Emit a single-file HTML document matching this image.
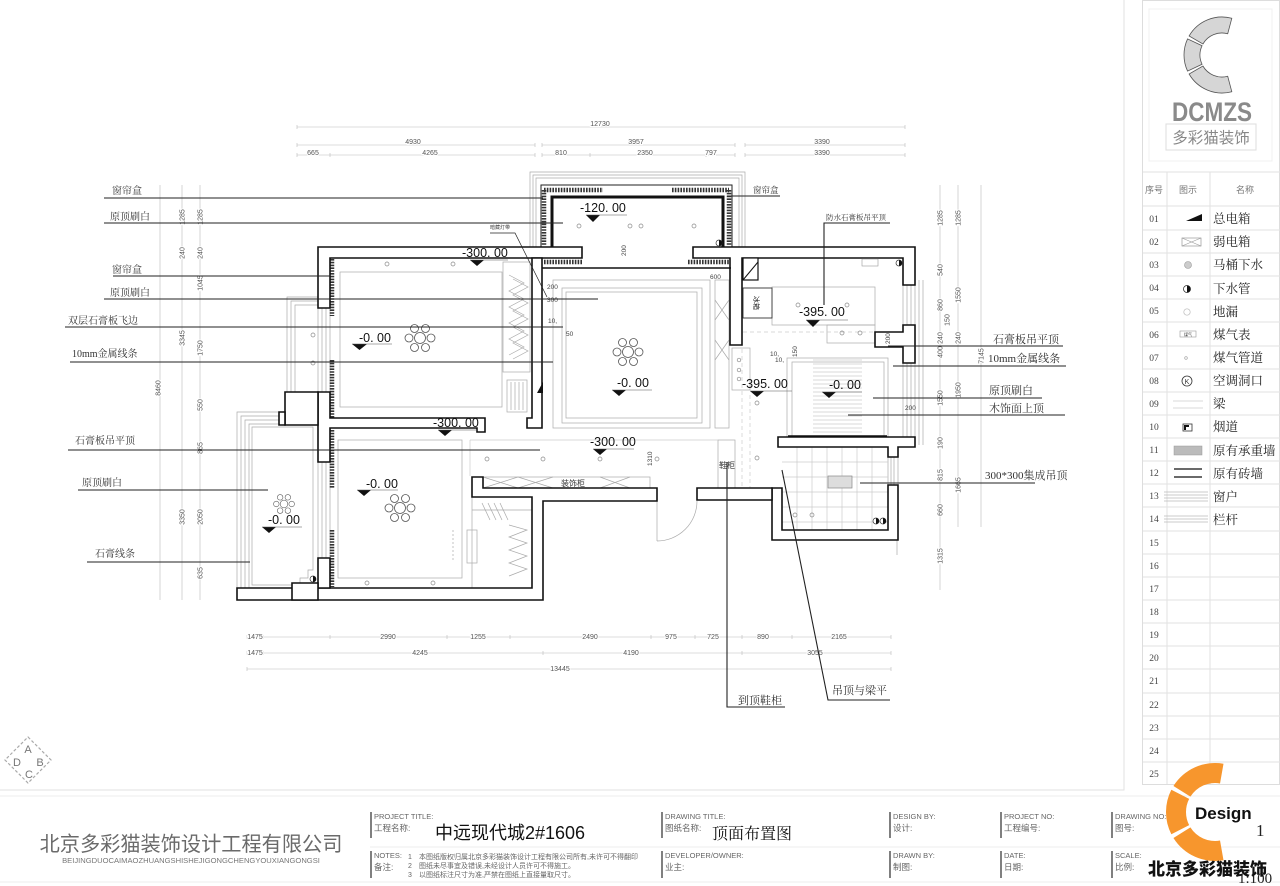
<!DOCTYPE html>
<html><head><meta charset="utf-8">
<style>
html,body{margin:0;padding:0;background:#fff;}
svg{display:block;}
.d{font-family:"Liberation Sans",sans-serif;font-size:7px;fill:#555;text-anchor:middle;paint-order:stroke;stroke:#fff;stroke-width:2px;}
.l{font-family:"Liberation Serif","Noto Serif CJK SC",serif;font-size:10px;fill:#333;}
.r{font-family:"Liberation Serif","Noto Serif CJK SC",serif;font-size:11px;fill:#333;}
.e{font-family:"Liberation Sans",sans-serif;font-size:12.5px;fill:#111;}
.s{font-family:"Liberation Sans","Noto Sans CJK SC",sans-serif;font-size:6.5px;fill:#444;}
.ln{font-family:"Liberation Serif",serif;font-size:9.5px;fill:#444;text-anchor:middle;}
.lt{font-family:"Liberation Serif","Noto Serif CJK SC",serif;font-size:12.5px;fill:#222;}
.tb{font-family:"Liberation Sans",sans-serif;font-size:7.5px;fill:#666;}
.tc{font-family:"Liberation Sans","Noto Sans CJK SC",sans-serif;font-size:8.5px;fill:#666;}
.nt{font-family:"Liberation Sans","Noto Sans CJK SC",sans-serif;font-size:7px;fill:#666;}
.w{fill:#fff;stroke:#111;stroke-width:1.6;}
.g{fill:none;stroke:#aaa;stroke-width:0.7;}
.g2{fill:none;stroke:#ccc;stroke-width:0.7;}
.lead{fill:none;stroke:#222;stroke-width:1.1;}
.sq{fill:none;stroke:#333;stroke-width:4.5;stroke-dasharray:1.6 1.2;}
</style></head><body>
<svg width="1280" height="886" viewBox="0 0 1280 886" xmlns="http://www.w3.org/2000/svg">
<defs>
<g id="ch" fill="none" stroke="#555" stroke-width="0.8">
<circle r="5.5"/><circle cx="11" cy="0" r="4"/><circle cx="-11" cy="0" r="4"/>
<circle cx="5.5" cy="9.5" r="4"/><circle cx="-5.5" cy="9.5" r="4"/>
<circle cx="5.5" cy="-9.5" r="4"/><circle cx="-5.5" cy="-9.5" r="4"/>
</g>
</defs>
<rect width="1280" height="886" fill="#fff"/>

<!-- frame -->
<path d="M1124,0 V790 H0" stroke="#e2e2e2" fill="none"/>
<line x1="0" y1="796" x2="1280" y2="796" stroke="#ececec"/>
<line x1="370" y1="847" x2="1280" y2="847" stroke="#ececec"/>
<line x1="0" y1="882" x2="1280" y2="882" stroke="#ececec"/>

<!-- ========== LEGEND PANEL ========== -->
<rect x="1142.5" y="0.5" width="137" height="784" fill="none" stroke="#ddd"/>
<rect x="1149" y="9" width="123" height="152" fill="none" stroke="#f0f0f0"/>
<g fill="#d6d6d6" stroke="#555" stroke-width="0.8">
<path d="M1231.8,18.3 A38,38 0 0 0 1189.1,36 L1202.9,44 A22,22 0 0 1 1227.7,33.75 Z"/>
<path d="M1187.56,38.94 A38,38 0 0 0 1187.56,71.06 L1202.06,64.3 A22,22 0 0 1 1202.06,45.7 Z"/>
<path d="M1189.1,74 A38,38 0 0 0 1231.8,91.7 L1227.7,76.25 A22,22 0 0 1 1202.9,66 Z"/>
</g>
<text x="1172" y="121" font-family="Liberation Sans, sans-serif" font-size="27" font-weight="bold" fill="#8a8a8a" textLength="80" lengthAdjust="spacingAndGlyphs">DCMZS</text>
<rect x="1166" y="124" width="90" height="26" fill="none" stroke="#ddd"/>
<text x="1211" y="143" font-family="Liberation Sans, Noto Sans CJK SC, sans-serif" font-size="15.5" fill="#888" text-anchor="middle">多彩猫装饰</text>

<g stroke="#e2e2e2" stroke-width="1">
<line x1="1143" y1="172" x2="1280" y2="172"/>
<line x1="1143" y1="206" x2="1280" y2="206"/>
<line x1="1167" y1="172" x2="1167" y2="784"/>
<line x1="1210" y1="172" x2="1210" y2="784"/>
<line x1="1143" y1="230" x2="1280" y2="230"/><line x1="1143" y1="253" x2="1280" y2="253"/>
<line x1="1143" y1="276" x2="1280" y2="276"/><line x1="1143" y1="299" x2="1280" y2="299"/>
<line x1="1143" y1="322" x2="1280" y2="322"/><line x1="1143" y1="346" x2="1280" y2="346"/>
<line x1="1143" y1="369" x2="1280" y2="369"/><line x1="1143" y1="392" x2="1280" y2="392"/>
<line x1="1143" y1="415" x2="1280" y2="415"/><line x1="1143" y1="438" x2="1280" y2="438"/>
<line x1="1143" y1="461" x2="1280" y2="461"/><line x1="1143" y1="484" x2="1280" y2="484"/>
<line x1="1143" y1="507" x2="1280" y2="507"/><line x1="1143" y1="531" x2="1280" y2="531"/>
<line x1="1143" y1="554" x2="1280" y2="554"/><line x1="1143" y1="577" x2="1280" y2="577"/>
<line x1="1143" y1="600" x2="1280" y2="600"/><line x1="1143" y1="623" x2="1280" y2="623"/>
<line x1="1143" y1="646" x2="1280" y2="646"/><line x1="1143" y1="669" x2="1280" y2="669"/>
<line x1="1143" y1="693" x2="1280" y2="693"/><line x1="1143" y1="716" x2="1280" y2="716"/>
<line x1="1143" y1="739" x2="1280" y2="739"/><line x1="1143" y1="762" x2="1280" y2="762"/>
</g>
<g font-family="Liberation Sans, Noto Sans CJK SC, sans-serif" font-size="9" fill="#777" text-anchor="middle">
<text x="1154" y="193">序号</text><text x="1188" y="193">图示</text><text x="1245" y="193">名称</text>
</g>
<g class="ln">
<text x="1154" y="222">01</text><text x="1154" y="245">02</text><text x="1154" y="268">03</text>
<text x="1154" y="291">04</text><text x="1154" y="314">05</text><text x="1154" y="338">06</text>
<text x="1154" y="361">07</text><text x="1154" y="384">08</text><text x="1154" y="407">09</text>
<text x="1154" y="430">10</text><text x="1154" y="453">11</text><text x="1154" y="476">12</text>
<text x="1154" y="499">13</text><text x="1154" y="522">14</text><text x="1154" y="546">15</text>
<text x="1154" y="569">16</text><text x="1154" y="592">17</text><text x="1154" y="615">18</text>
<text x="1154" y="638">19</text><text x="1154" y="661">20</text><text x="1154" y="684">21</text>
<text x="1154" y="708">22</text><text x="1154" y="731">23</text><text x="1154" y="754">24</text>
<text x="1154" y="777">25</text>
</g>
<g class="lt">
<text x="1213" y="223">总电箱</text><text x="1213" y="246">弱电箱</text><text x="1213" y="269">马桶下水</text>
<text x="1213" y="293">下水管</text><text x="1213" y="316">地漏</text><text x="1213" y="339">煤气表</text>
<text x="1213" y="362">煤气管道</text><text x="1213" y="385">空调洞口</text><text x="1213" y="408">梁</text>
<text x="1213" y="431">烟道</text><text x="1213" y="455">原有承重墙</text><text x="1213" y="478">原有砖墙</text>
<text x="1213" y="501">窗户</text><text x="1213" y="524">栏杆</text>
</g>
<!-- legend icons -->
<polygon points="1186,221 1202,221 1202,214" fill="#111"/>
<rect x="1182" y="238" width="19" height="8" fill="none" stroke="#999" stroke-width="0.7"/>
<path d="M1182,238 L1201,246 M1201,238 L1182,246" stroke="#999" stroke-width="0.6"/>
<circle cx="1188" cy="265" r="3.5" fill="#ccc" stroke="#999" stroke-width="0.6"/>
<circle cx="1187" cy="289" r="3.5" fill="#fff" stroke="#333" stroke-width="0.8"/>
<path d="M1187,285.5 A3.5,3.5 0 0 1 1187,292.5 Z" fill="#111"/>
<circle cx="1187" cy="312" r="3.2" fill="none" stroke="#bbb" stroke-width="0.7"/>
<rect x="1180" y="331" width="16" height="6" fill="none" stroke="#999" stroke-width="0.6"/>
<text x="1188" y="336" font-size="4" text-anchor="middle" fill="#333" font-family="Noto Sans CJK SC, sans-serif">煤气</text>
<circle cx="1186" cy="358" r="1.3" fill="none" stroke="#999" stroke-width="0.6"/>
<circle cx="1187" cy="381" r="5" fill="none" stroke="#333" stroke-width="0.8"/>
<text x="1187" y="384" font-size="7" text-anchor="middle" fill="#333" font-family="Liberation Sans, sans-serif">K</text>
<path d="M1173,401 H1203 M1173,408 H1203" stroke="#ccc" stroke-width="0.7"/>
<rect x="1183" y="424" width="9" height="7" fill="#fff" stroke="#333" stroke-width="0.8"/>
<path d="M1184,425 H1189 V427 H1186 V430 H1184 Z" fill="#111"/>
<rect x="1174" y="446" width="28" height="9" fill="#bbb" stroke="#999" stroke-width="0.5"/>
<path d="M1174,469 H1202 M1174,477 H1202" stroke="#111" stroke-width="1.2"/>
<path d="M1164,492 H1208 M1164,495 H1208 M1164,498 H1208 M1164,501 H1208" stroke="#bbb" stroke-width="0.7"/>
<path d="M1164,516 H1208 M1164,519 H1208 M1164,522 H1208" stroke="#bbb" stroke-width="0.7"/>

<!-- ========== TITLE BLOCK ========== -->
<text x="191" y="851" font-family="Liberation Sans, Noto Sans CJK SC, sans-serif" font-size="20.2" fill="#6a6a6a" text-anchor="middle">北京多彩猫装饰设计工程有限公司</text>
<text x="191" y="863" font-family="Liberation Sans, sans-serif" font-size="7.6" fill="#777" text-anchor="middle">BEIJINGDUOCAIMAOZHUANGSHISHEJIGONGCHENGYOUXIANGONGSI</text>
<g stroke="#555" stroke-width="1.5">
<line x1="371" y1="812" x2="371" y2="838"/><line x1="371" y1="851" x2="371" y2="878"/>
<line x1="662" y1="812" x2="662" y2="838"/><line x1="662" y1="851" x2="662" y2="878"/>
<line x1="890" y1="812" x2="890" y2="838"/><line x1="890" y1="851" x2="890" y2="878"/>
<line x1="1001" y1="812" x2="1001" y2="838"/><line x1="1001" y1="851" x2="1001" y2="878"/>
<line x1="1112" y1="812" x2="1112" y2="838"/><line x1="1112" y1="851" x2="1112" y2="878"/>
</g>
<text class="tb" x="374" y="819">PROJECT TITLE:</text>
<text class="tc" x="374" y="831">工程名称:</text>
<text x="435" y="839" font-family="Liberation Sans, Noto Sans CJK SC, sans-serif" font-size="18" fill="#111">中远现代城2#1606</text>
<text class="tb" x="374" y="858">NOTES:</text>
<text class="tc" x="374" y="870">备注:</text>
<text class="nt" x="408" y="859">1</text><text class="nt" x="419" y="859" font-size="7.2">本图纸版权归属北京多彩猫装饰设计工程有限公司所有,未许可不得翻印</text>
<text class="nt" x="408" y="868">2</text><text class="nt" x="419" y="868" font-size="7.2">图纸未尽事宜及错误,未经设计人员许可不得施工。</text>
<text class="nt" x="408" y="877">3</text><text class="nt" x="419" y="877" font-size="7.2">以图纸标注尺寸为准,严禁在图纸上直接量取尺寸。</text>
<text class="tb" x="665" y="819">DRAWING TITLE:</text>
<text class="tc" x="665" y="831">图纸名称:</text>
<text x="712" y="839" font-family="Liberation Serif, Noto Serif CJK SC, serif" font-size="16" fill="#111">顶面布置图</text>
<text class="tb" x="665" y="858">DEVELOPER/OWNER:</text>
<text class="tc" x="665" y="870">业主:</text>
<text class="tb" x="893" y="819">DESIGN BY:</text><text class="tc" x="893" y="831">设计:</text>
<text class="tb" x="893" y="858">DRAWN BY:</text><text class="tc" x="893" y="870">制图:</text>
<text class="tb" x="1004" y="819">PROJECT NO:</text><text class="tc" x="1004" y="831">工程编号:</text>
<text class="tb" x="1004" y="858">DATE:</text><text class="tc" x="1004" y="870">日期:</text>
<text class="tb" x="1115" y="819">DRAWING NO:</text><text class="tc" x="1115" y="831">图号:</text>
<text class="tb" x="1115" y="858">SCALE:</text><text class="tc" x="1115" y="870">比例:</text>
<text x="1256" y="836" font-family="Liberation Serif, serif" font-size="17" fill="#222">1</text>
<text x="1238" y="883" font-family="Liberation Serif, serif" font-size="15" fill="#222">1:100</text>
<!-- orange logo -->
<g fill="#F7962D">
<path d="M1223.5,763.7 A49,49 0 0 0 1173.45,786.03 L1190.41,796.63 A29,29 0 0 1 1220.03,783.44 Z"/>
<path d="M1171.34,789.75 A49,49 0 0 0 1171.34,834.25 L1189.16,825.17 A29,29 0 0 1 1189.16,798.83 Z"/>
<path d="M1173.45,837.97 A49,49 0 0 0 1223.5,860.26 L1220.03,840.56 A29,29 0 0 1 1190.41,827.37 Z"/>
</g>
<text x="1195" y="819" font-family="Liberation Sans, sans-serif" font-size="17" font-weight="bold" fill="#111">Design</text>
<text x="1148" y="875" font-family="Noto Sans CJK SC, sans-serif" font-size="17" font-weight="900" fill="#111">北京多彩猫装饰</text>

<!-- ABC logo -->
<polygon points="28,737 51,760 28,783 5,760" fill="none" stroke="#aaa" stroke-width="1.2" stroke-dasharray="3 2"/>
<g font-family="Liberation Sans, sans-serif" font-size="11" fill="#777" text-anchor="middle">
<text x="28" y="753">A</text><text x="17" y="766">D</text><text x="40" y="766">B</text><text x="29" y="778">C</text>
</g>

<!-- ========== DIMENSIONS ========== -->
<g stroke="#bbb" stroke-width="0.6" fill="none">
<path d="M297,127 H905"/>
<path d="M297,145 H535 M542,145 H735 M745,145 H905"/>
<path d="M297,155 H535 M542,155 H735 M745,155 H905"/>
<path d="M297,125 v4 M905,125 v4 M297,143 v4 M535,143 v4 M542,143 v4 M735,143 v4 M745,143 v4 M905,143 v4 M297,153 v4 M330,153 v4 M535,153 v4 M542,153 v4 M590,153 v4 M706,153 v4 M735,153 v4 M745,153 v4 M905,153 v4"/>
<path d="M247,637 H891 M247,653 H891 M247,669 H891"/>
<path d="M247,635 v4 M263,635 v4 M330,635 v4 M447,635 v4 M510,635 v4 M651,635 v4 M695,635 v4 M727,635 v4 M742,635 v4 M792,635 v4 M891,635 v4"/>
<path d="M247,651 v4 M263,651 v4 M543,651 v4 M727,651 v4 M742,651 v4 M891,651 v4 M247,667 v4 M891,667 v4"/>
<path d="M160,185 V600 M182,185 V600 M200,185 V600"/>
<path d="M940,185 V590 M958,185 V527 M981,185 V527"/>
</g>
<g class="d">
<text x="600" y="126">12730</text>
<text x="413" y="144">4930</text><text x="636" y="144">3957</text><text x="822" y="144">3390</text>
<text x="313" y="155">665</text><text x="430" y="155">4265</text><text x="561" y="155">810</text>
<text x="645" y="155">2350</text><text x="711" y="155">797</text><text x="822" y="155">3390</text>
<text x="255" y="639">1475</text><text x="388" y="639">2990</text><text x="478" y="639">1255</text>
<text x="590" y="639">2490</text><text x="671" y="639">975</text><text x="713" y="639">725</text>
<text x="763" y="639">890</text><text x="839" y="639">2165</text>
<text x="255" y="655">1475</text><text x="420" y="655">4245</text><text x="631" y="655">4190</text><text x="815" y="655">3055</text>
<text x="560" y="671">13445</text>
<text transform="translate(184.5,217) rotate(-90)">1285</text>
<text transform="translate(184.5,253) rotate(-90)">240</text>
<text transform="translate(184.5,338) rotate(-90)">3345</text>
<text transform="translate(184.5,517) rotate(-90)">3350</text>
<text transform="translate(202.5,217) rotate(-90)">1285</text>
<text transform="translate(202.5,253) rotate(-90)">240</text>
<text transform="translate(202.5,283) rotate(-90)">1045</text>
<text transform="translate(202.5,348) rotate(-90)">1750</text>
<text transform="translate(202.5,405) rotate(-90)">550</text>
<text transform="translate(202.5,448) rotate(-90)">865</text>
<text transform="translate(202.5,517) rotate(-90)">2050</text>
<text transform="translate(202.5,573) rotate(-90)">635</text>
<text transform="translate(160.5,388) rotate(-90)">8460</text>
<text transform="translate(942.5,218) rotate(-90)">1285</text>
<text transform="translate(942.5,270) rotate(-90)">540</text>
<text transform="translate(942.5,305) rotate(-90)">860</text>
<text transform="translate(942.5,338) rotate(-90)">240</text>
<text transform="translate(942.5,352) rotate(-90)">400</text>
<text transform="translate(942.5,398) rotate(-90)">1550</text>
<text transform="translate(942.5,443) rotate(-90)">190</text>
<text transform="translate(942.5,475) rotate(-90)">815</text>
<text transform="translate(942.5,510) rotate(-90)">660</text>
<text transform="translate(942.5,556) rotate(-90)">1315</text>
<text transform="translate(960.5,218) rotate(-90)">1285</text>
<text transform="translate(960.5,295) rotate(-90)">1550</text>
<text transform="translate(949.5,320) rotate(-90)">150</text>
<text transform="translate(960.5,338) rotate(-90)">240</text>
<text transform="translate(960.5,390) rotate(-90)">1950</text>
<text transform="translate(960.5,485) rotate(-90)">1665</text>
<text transform="translate(983.5,356) rotate(-90)">7145</text>
</g>

<!-- ========== PLAN: gray details ========== -->
<g class="g">
<path d="M530,248 V172 H745 V248"/>
<path d="M533,248 V175 H742 V248"/>
<path d="M536,248 V178 H739 V248"/>
<path d="M287,392 V297 H318 M291,392 V301 H318 M295,392 V305 H318"/>
<path d="M237,588 V412 H279 M241,588 V416 H279 M245,588 V420 H279 M249,588 V424 H279"/>
<path d="M252,427 H313 V570 H308 V578 H300 V585 H252 Z"/>
<path d="M318,308 V392 M322,308 V392 M326,308 V392 M330,308 V392"/>
<path d="M318,462 V558 M322,462 V558 M326,462 V558 M330,462 V558"/>
<path d="M903,285 V325 M907,285 V325 M911,285 V325 M915,285 V325"/>
<path d="M903,363 V437 M907,363 V437 M911,363 V437 M915,363 V437"/>
<path d="M888,457 V485 M891,457 V485 M894,457 V485 M898,457 V485"/>
<path d="M919,280 V445 M923,280 V445"/>
<path d="M893,485 V540 M897,540 V555"/>
<rect x="340" y="272" width="162" height="135"/>
<rect x="503" y="262" width="27" height="110"/>
<rect x="507" y="380" width="20" height="32"/>
<path d="M511,382 V410 M515,382 V410 M519,382 V410 M523,382 V410"/>
<polyline points="509,275 524,283 509,291 524,299 509,307 524,315 509,323 524,331 509,339 524,347 509,355"/>
<polyline points="513,279 528,287 513,295 528,303 513,311 528,319 513,327 528,335 513,343 528,351 513,359"/>
<rect x="553" y="280" width="157" height="148"/>
<rect x="562" y="288" width="140" height="135"/>
<rect x="566" y="292" width="131" height="126"/>
<rect x="715" y="280" width="14" height="148"/>
<path d="M715,300 L729,320 M729,300 L715,320 M715,340 L729,360 M729,340 L715,360"/>
<rect x="772" y="287" width="103" height="38"/>
<rect x="827" y="325" width="48" height="18"/>
<rect x="732" y="348" width="18" height="42"/>
<rect x="787" y="358" width="101" height="79"/>
<rect x="792" y="362" width="92" height="75"/>
<rect x="338" y="440" width="124" height="138"/>
<rect x="718" y="440" width="17" height="48"/>
<rect x="483" y="477" width="167" height="11"/>
<path d="M483,477 L518,488 M518,477 L483,488 M518,477 L553,488 M553,477 L518,488 M600,477 L630,488 M630,477 L600,488"/>
<path d="M657,501 V541 M657,541 A40,40 0 0 0 697,501"/>
<path d="M705,490 L722,498 M722,490 L705,498"/>
<rect x="705" y="490" width="17" height="8"/>
<path d="M472,497 V588 M472,510 H532"/>
<path d="M482,503 L490,520 M488,503 L496,520 M494,503 L502,520 M500,503 L508,520"/>
<polyline points="509,525 527,530 509,537 527,543 509,550 527,556 509,563 527,569 509,576"/>
<rect x="467" y="530" width="10" height="33"/>
<path d="M453,530 V562" stroke-dasharray="2 2"/>
</g>
<g class="g2">
<path d="M813,360 H862 M813,364 H862 M813,368 H862 M813,372 H862 M813,376 H862 M813,380 H862 M813,384 H862 M813,388 H862 M813,392 H862 M813,396 H862 M813,400 H862 M813,404 H862 M813,408 H862 M813,412 H862 M813,416 H862 M813,420 H862 M813,424 H862 M813,428 H862 M813,432 H862"/>
<path d="M797,447 V530 M812,447 V530 M827,447 V530 M842,447 V530 M857,447 V530 M872,447 V530 M782,462 H888 M782,477 H888 M782,492 H888 M782,507 H888 M782,522 H888"/>
<path d="M742,300 V488 M750,395 V488" stroke-dasharray="4 3"/>
<path d="M743,332 H875" stroke-dasharray="4 3"/>
<path d="M470,440 V476 M470,440 H718"/>
</g>

<!-- squiggles (curtains) -->
<path class="sq" d="M544,190 H603 M672,190 H729 M544,190 V245 M729,190 V245 M544,262 H582 M688,262 H730 M332,259 V316 M332,360 V418 M332,430 V488 M332,530 V587"/>
<path d="M541,247 V185 H732 V247" stroke="#222" stroke-width="1" fill="none"/>
<path d="M552,248 V197 H723 V248" stroke="#111" stroke-width="3" fill="none"/>

<!-- ========== WALLS ========== -->
<g class="w">
<path d="M318,247 H582 V258 H330 V308 H318 Z"/>
<path d="M693,247 H915 V285 H903 V258 H742 V345 H730 V258 H693 Z"/>
<path d="M903,325 H915 V363 H903 V347 H875 V332 H903 Z"/>
<path d="M778,437 H915 V447 H898 V457 H888 V447 H778 Z"/>
<path d="M888,485 H898 V540 H772 V488 H782 V530 H888 Z"/>
<path d="M697,488 H772 V500 H697 Z"/>
<path d="M472,477 H483 V488 H657 V501 H543 V600 H237 V588 H532 V497 H472 Z"/>
<path d="M318,392 H330 V418 H485 V432 H477 V428 H330 V462 H318 Z"/>
<path d="M318,558 H330 V588 H318 Z"/>
<path d="M285,392 H318 V425 H285 Z"/>
<path d="M279,412 H285 V425 H279 Z"/>
<path d="M292,583 H318 V600 H292 Z"/>
<path d="M532,258 H542 V428 H527 V418 H532 Z"/>
</g>
<line x1="542" y1="268" x2="731" y2="268" stroke="#111" stroke-width="1.5"/>
<line x1="788" y1="436" x2="887" y2="436" stroke="#111" stroke-width="1.5"/>
<!-- kitchen items -->
<rect x="743" y="258" width="15" height="22" fill="#fff" stroke="#111" stroke-width="1.2"/>
<path d="M743,280 L758,262" stroke="#111" stroke-width="1"/>
<rect x="743" y="288" width="29" height="30" fill="#fff" stroke="#333" stroke-width="0.9"/>
<text transform="translate(754,296) rotate(90)" font-family="Noto Sans CJK SC, sans-serif" font-size="7" fill="#222">冰箱</text>
<rect x="862" y="259" width="16" height="7" fill="none" stroke="#999" stroke-width="0.6"/>
<polygon points="537,393 543,382 543,393" fill="#111"/>
<rect x="828" y="476" width="24" height="12" fill="#ddd" stroke="#888" stroke-width="0.7"/>

<!-- lights -->
<g fill="none" stroke="#888" stroke-width="0.7">
<circle cx="579" cy="226" r="2"/><circle cx="630" cy="226" r="2"/><circle cx="641" cy="226" r="2"/><circle cx="694" cy="226" r="2"/>
<circle cx="387" cy="264" r="2"/><circle cx="453" cy="264" r="2"/>
<circle cx="313" cy="335" r="2"/><circle cx="313" cy="363" r="2"/>
<circle cx="798" cy="305" r="2"/><circle cx="847" cy="305" r="2"/><circle cx="842" cy="333" r="2"/><circle cx="860" cy="333" r="2"/>
<circle cx="739" cy="360" r="1.8"/><circle cx="739" cy="370" r="1.8"/><circle cx="739" cy="379" r="1.8"/>
<circle cx="757" cy="403" r="2"/>
<circle cx="487" cy="459" r="2"/><circle cx="543" cy="459" r="2"/><circle cx="600" cy="459" r="2"/><circle cx="657" cy="459" r="2"/><circle cx="757" cy="458" r="2"/>
<circle cx="367" cy="583" r="2"/><circle cx="433" cy="583" r="2"/>
<circle cx="795" cy="515" r="2"/><circle cx="812" cy="515" r="2"/>
</g>
<!-- half circles -->
<g stroke="#333" stroke-width="0.7" fill="#fff">
<circle cx="719" cy="243" r="3"/><circle cx="899" cy="263" r="3"/><circle cx="313" cy="579" r="3"/>
<circle cx="876" cy="521" r="3"/><circle cx="883" cy="521" r="3"/>
</g>
<g fill="#111">
<path d="M719,240 A3,3 0 0 1 719,246 Z"/><path d="M899,260 A3,3 0 0 1 899,266 Z"/>
<path d="M313,576 A3,3 0 0 1 313,582 Z"/><path d="M876,518 A3,3 0 0 1 876,524 Z"/><path d="M883,518 A3,3 0 0 1 883,524 Z"/>
</g>

<!-- chandeliers -->
<use href="#ch" transform="translate(420,338)"/>
<use href="#ch" transform="translate(628,352)"/>
<use href="#ch" transform="translate(400,508)"/>
<use href="#ch" transform="translate(284,504) scale(0.7)"/>

<!-- elevation markers -->
<g fill="#111">
<polygon points="586,215 600,215 593,222"/>
<polygon points="470,260 484,260 477,266"/>
<polygon points="352,344 367,344 359.5,350"/>
<polygon points="612,390 626,390 619,396"/>
<polygon points="806,320 820,320 813,327"/>
<polygon points="750,391 764,391 757,397"/>
<polygon points="822,392 836,392 829,398"/>
<polygon points="593,449 607,449 600,455"/>
<polygon points="438,430 452,430 445,436"/>
<polygon points="357,490 371,490 364,496"/>
<polygon points="262,527 276,527 269,533"/>
</g>
<g stroke="#555" stroke-width="0.6">
<path d="M586,215 H627 M470,260 H508 M352,344 H392 M612,390 H652 M806,320 H848 M750,391 H792 M822,392 H862 M593,449 H634 M438,430 H478 M357,490 H398 M262,527 H302"/>
</g>
<g class="e">
<text x="580" y="212">-120. 00</text>
<text x="462" y="257">-300. 00</text>
<text x="359" y="342">-0. 00</text>
<text x="617" y="387">-0. 00</text>
<text x="799" y="316">-395. 00</text>
<text x="742" y="388">-395. 00</text>
<text x="829" y="389">-0. 00</text>
<text x="590" y="446">-300. 00</text>
<text x="433" y="427">-300. 00</text>
<text x="366" y="488">-0. 00</text>
<text x="268" y="524">-0. 00</text>
</g>
<!-- small labels -->
<g class="s">
<text x="547" y="289">200</text><text x="547" y="302">300</text><text x="548" y="323">10,</text><text x="566" y="336">50</text>
<text x="710" y="279">600</text><text x="770" y="356">10,</text><text x="775" y="362">10,</text>
<text x="905" y="410">200</text>
<text transform="translate(626,256) rotate(-90)">200</text>
<text transform="translate(797,357) rotate(-90)">150</text>
<text transform="translate(652,466) rotate(-90)">1310</text>
<text transform="translate(890,344) rotate(-90)">200</text>
<text x="490" y="229" font-size="5">暗藏灯带</text>
</g>
<text x="719" y="468" font-family="Noto Sans CJK SC, sans-serif" font-size="8" fill="#333">鞋柜</text>
<rect x="553" y="479" width="40" height="8" fill="#fff"/>
<text x="573" y="486" font-family="Noto Sans CJK SC, sans-serif" font-size="8" fill="#333" text-anchor="middle">装饰柜</text>

<!-- ========== LEADERS ========== -->
<g class="lead">
<path d="M104,198 H543"/>
<path d="M104,223 H563"/>
<path d="M113,276 H330"/>
<path d="M104,299 H598"/>
<path d="M65,327 H563"/>
<path d="M70,362 H553"/>
<path d="M68,450 H540"/>
<path d="M78,490 H268"/>
<path d="M87,562 H250"/>
<path d="M727,196 H780"/>
<path d="M824,305 V223 H890"/>
<path d="M888,346 H1063"/>
<path d="M893,366 H1066"/>
<path d="M873,398 H1042"/>
<path d="M848,415 H1065"/>
<path d="M860,483 H1035"/>
<path d="M727,462 V707 H785"/>
<path d="M782,470 L828,700 H890"/>
<path d="M490,233 H515 L547,297" stroke-width="0.7"/>
</g>
<g class="l">
<text x="112" y="194">窗帘盒</text>
<text x="110" y="220">原顶刷白</text>
<text x="112" y="273">窗帘盒</text>
<text x="110" y="296">原顶刷白</text>
<text x="68" y="324">双层石膏板飞边</text>
<text x="72" y="357">10mm金属线条</text>
<text x="75" y="444">石膏板吊平顶</text>
<text x="82" y="486">原顶刷白</text>
<text x="95" y="557">石膏线条</text>
</g>
<text x="753" y="193" font-family="Liberation Serif, Noto Serif CJK SC, serif" font-size="8.5" fill="#333">窗帘盒</text>
<text x="826" y="220" font-family="Liberation Serif, Noto Serif CJK SC, serif" font-size="7.5" fill="#333">防水石膏板吊平顶</text>
<g class="r">
<text x="993" y="343">石膏板吊平顶</text>
<text x="988" y="362">10mm金属线条</text>
<text x="989" y="394">原顶刷白</text>
<text x="989" y="412">木饰面上顶</text>
<text x="985" y="479">300*300集成吊顶</text>
<text x="738" y="704">到顶鞋柜</text>
<text x="832" y="694">吊顶与梁平</text>
</g>
</svg>
</body></html>
